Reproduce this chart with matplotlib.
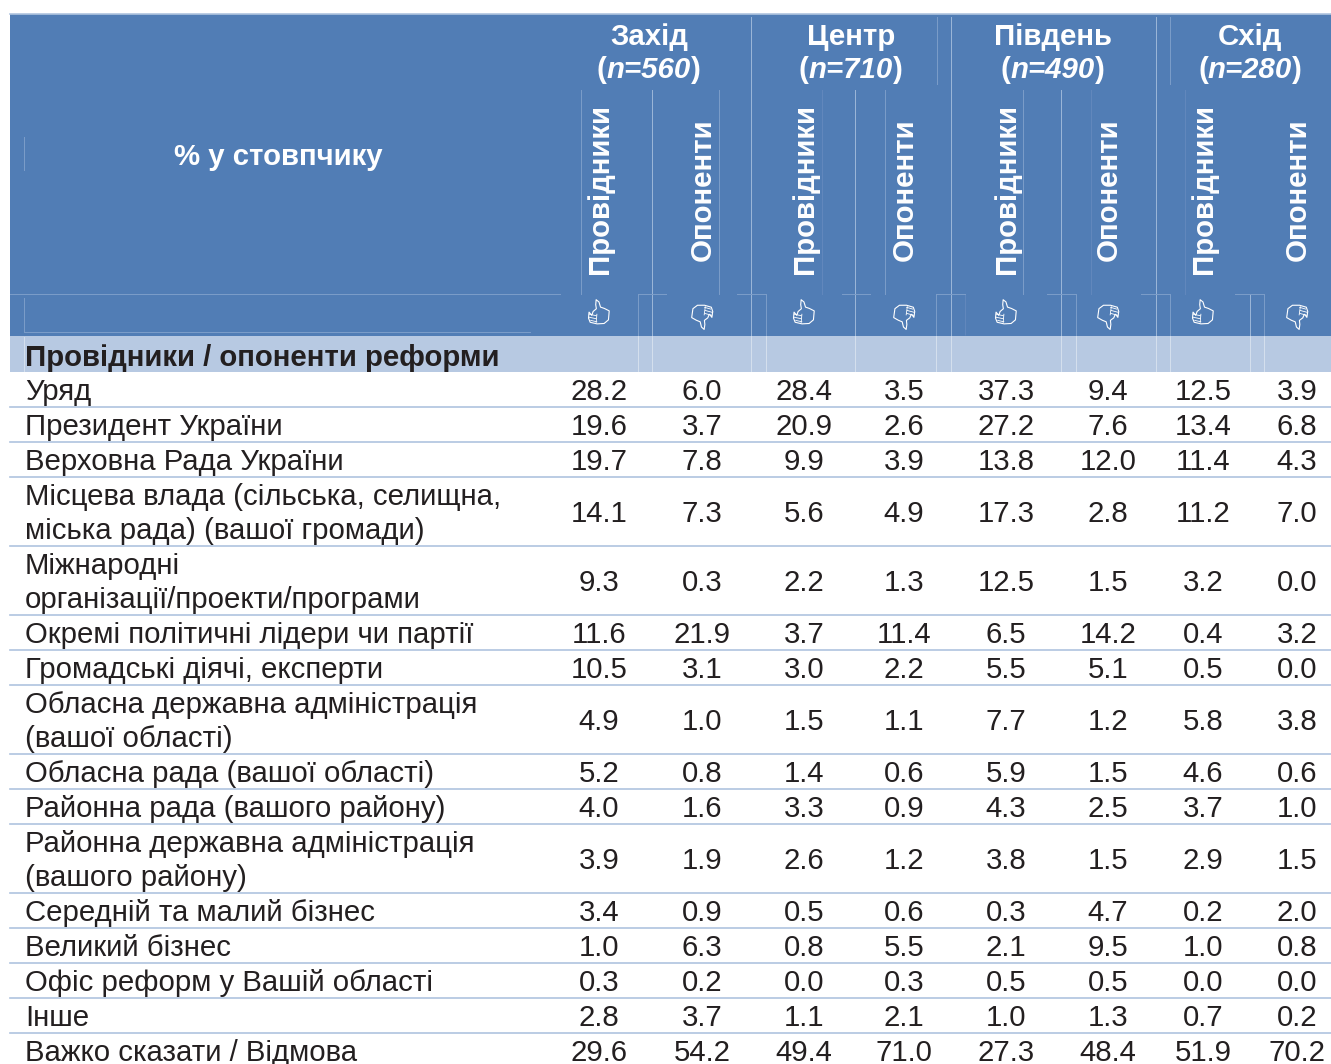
import matplotlib
matplotlib.use("Agg")
import matplotlib.pyplot as plt
from matplotlib.path import Path
from matplotlib.patches import PathPatch, Rectangle
from matplotlib.transforms import Affine2D

plt.rcParams['font.family'] = ['Liberation Sans', 'DejaVu Sans']

regions = ['Захід', 'Центр', 'Південь', 'Схід']
region_n = [560, 710, 490, 280]
kinds = ['Провідники', 'Опоненти']
corner_label = '% у стовпчику'
section_label = 'Провідники / опоненти реформи'

rows = [
    'Уряд',
    'Президент України',
    'Верховна Рада України',
    'Місцева влада (сільська, селищна,\nміська рада) (вашої громади)',
    'Міжнародні\nорганізації/проекти/програми',
    'Окремі політичні лідери чи партії',
    'Громадські діячі, експерти',
    'Обласна державна адміністрація\n(вашої області)',
    'Обласна рада (вашої області)',
    'Районна рада (вашого району)',
    'Районна державна адміністрація\n(вашого району)',
    'Середній та малий бізнес',
    'Великий бізнес',
    'Офіс реформ у Вашій області',
    'Інше',
    'Важко сказати / Відмова',
]

west_pro = [28.2, 19.6, 19.7, 14.1, 9.3, 11.6, 10.5, 4.9, 5.2, 4.0, 3.9, 3.4, 1.0, 0.3, 2.8, 29.6]
west_opp = [6.0, 3.7, 7.8, 7.3, 0.3, 21.9, 3.1, 1.0, 0.8, 1.6, 1.9, 0.9, 6.3, 0.2, 3.7, 54.2]
center_pro = [28.4, 20.9, 9.9, 5.6, 2.2, 3.7, 3.0, 1.5, 1.4, 3.3, 2.6, 0.5, 0.8, 0.0, 1.1, 49.4]
center_opp = [3.5, 2.6, 3.9, 4.9, 1.3, 11.4, 2.2, 1.1, 0.6, 0.9, 1.2, 0.6, 5.5, 0.3, 2.1, 71.0]
south_pro = [37.3, 27.2, 13.8, 17.3, 12.5, 6.5, 5.5, 7.7, 5.9, 4.3, 3.8, 0.3, 2.1, 0.5, 1.0, 27.3]
south_opp = [9.4, 7.6, 12.0, 2.8, 1.5, 14.2, 5.1, 1.2, 1.5, 2.5, 1.5, 4.7, 9.5, 0.5, 1.3, 48.4]
east_pro = [12.5, 13.4, 11.4, 11.2, 3.2, 0.4, 0.5, 5.8, 4.6, 3.7, 2.9, 0.2, 1.0, 0.0, 0.7, 51.9]
east_opp = [3.9, 6.8, 4.3, 7.0, 0.0, 3.2, 0.0, 3.8, 0.6, 1.0, 1.5, 2.0, 0.8, 0.0, 0.2, 70.2]
columns = [west_pro, west_opp, center_pro, center_opp, south_pro, south_opp, east_pro, east_opp]

W, H = 1331, 1064
BLUE = '#517DB5'
BAND = '#B7C9E2'
RULE = '#AFC4DF'
INK = '#231F20'
col_x = [599, 702, 804, 904, 1006, 1108, 1203, 1297]
group_x = [649, 851, 1053, 1250]
row_edges = [372, 407, 442, 477, 546, 615, 650, 685, 754, 789, 824, 893, 928, 963, 998, 1033, 1068]

fig = plt.figure(figsize=(W / 100, H / 100), dpi=100)
ax = fig.add_axes([0, 0, 1, 1])
ax.set_xlim(0, W)
ax.set_ylim(H, 0)
ax.axis('off')

# header blocks
ax.add_patch(Rectangle((10, 14), W - 10, 322, fc=BLUE, ec='none', zorder=1))
ax.add_patch(Rectangle((10, 336), W - 10, 36, fc=BAND, ec='none', zorder=1))
ax.plot([10, W], [13.5, 13.5], color=RULE, lw=1.2, zorder=2)

# thin cell borders left over in the header
strong = dict(color='#9DB7D9', lw=0.7, zorder=2)
faint = dict(color='#7C9DC9', lw=0.7, zorder=2)
on_band = dict(color='#D5E0EE', lw=0.7, zorder=2)
for x in [751, 951, 1156, 1250]:
    ax.plot([x, x], [17 if x != 1250 else 294, 336], **strong)
    ax.plot([x, x], [336, 371], **on_band)
for x in [937, 1170]:
    ax.plot([x, x], [17, 84], **faint)
for x in [581, 719, 885, 1023]:
    ax.plot([x, x], [90, 294], **faint)
for x in [822, 1091, 1185]:
    ax.plot([x, x], [90, 294], color='#6288BD', lw=0.7, zorder=2)
for x in [652, 855, 1061]:
    ax.plot([x, x], [90, 336], **strong)
    ax.plot([x, x], [336, 371], **on_band)
for x in [638, 766, 936, 1076, 1170, 1264]:
    ax.plot([x, x], [294, 336], **faint)
    ax.plot([x, x], [336, 371], **on_band)
ax.plot([965, 965], [294, 335], color='#6288BD', lw=0.7, solid_capstyle='butt', zorder=2)
for x0, x1 in [(10, 560), (638, 666), (737, 766), (842, 870), (936, 965), (1047, 1076), (1141, 1170), (1235, 1264)]:
    ax.plot([x0, x1], [294, 294], **faint)
ax.plot([24, 24], [137, 170], **faint)
ax.plot([24, 24], [298, 332], **faint)
ax.plot([24, 530], [332, 332], **faint)
ax.plot([24, 24], [337, 371], **on_band)

# group headers
HEAD_PT = 21.2
renderer = fig.canvas.get_renderer()
for cx, name, n in zip(group_x, regions, region_n):
    ax.text(cx, 37, name, color='white', fontsize=HEAD_PT, fontweight='bold',
            ha='center', va='center', zorder=3)
    parts = [('(', 'normal'), (f'n={n}', 'italic'), (')', 'normal')]
    items = [ax.text(0, 70, s, color='white', fontsize=HEAD_PT, fontweight='bold', fontstyle=st,
                     ha='left', va='center', zorder=3) for s, st in parts]
    widths = [t.get_window_extent(renderer).width for t in items]
    x = cx - sum(widths) / 2
    for t, w in zip(items, widths):
        t.set_x(x)
        x += w

ax.text(278, 157, corner_label, color='white', fontsize=HEAD_PT, fontweight='bold',
        ha='center', va='center', zorder=3)

# rotated sub headers
for i, cx in enumerate(col_x):
    ax.text(cx + 1, 189.5, kinds[i % 2], color='white', fontsize=HEAD_PT, fontweight='bold',
            rotation=90, ha='center', va='center', zorder=3)

# thumb icon outline, thumb-up version in local units
thumb_verts = [(-7, 3), (-10, 0), (-10, 6), (-8, 10), (-1, 11), (6, 10), (10, 6), (10, -3), (5, -5),
               (1, -6), (-1, -11), (-4, -13), (-4, -8), (-3, -4), (-6, -1), (-7, 3)]
finger_segs = [[(-10, 2), (-2, 3)], [(-10, 5), (-2, 6)], [(-8, 8), (-1, 9)], [(-2, 1), (-2, 10)]]


def draw_thumb(cx, cy, down):
    angle = 188 if down else 5
    tr = Affine2D().rotate_deg(angle).translate(cx, cy) + ax.transData
    ax.add_patch(PathPatch(Path(thumb_verts), fc='none', ec='white', lw=0.8, transform=tr,
                           joinstyle='round', zorder=3))
    for seg in finger_segs:
        ax.add_patch(PathPatch(Path(seg), fc='none', ec='white', lw=0.6, transform=tr, zorder=3))


for i, cx in enumerate(col_x):
    draw_thumb(cx, 316 if i % 2 else 313, i % 2 == 1)

# section band label
ax.text(25, 358, section_label, color=INK, fontsize=HEAD_PT, fontweight='bold',
        ha='left', va='center', zorder=3)

# table body
BODY_PT = 21.2
for r, label in enumerate(rows):
    top, bottom = row_edges[r], row_edges[r + 1]
    mid = (top + bottom) / 2
    if r < len(rows) - 1:
        ax.plot([10, W], [bottom, bottom], color=RULE, lw=1.2, zorder=2)
    ax.text(25, mid + 2.5, label, color=INK, fontsize=BODY_PT, ha='left', va='center',
            linespacing=1.23, zorder=3)
    for cx, col in zip(col_x, columns):
        ax.text(cx, mid + 2.5, f'{col[r]:.1f}', color=INK, fontsize=BODY_PT,
                ha='center', va='center', zorder=3)

fig.savefig('out.png', dpi=100, facecolor='white')
